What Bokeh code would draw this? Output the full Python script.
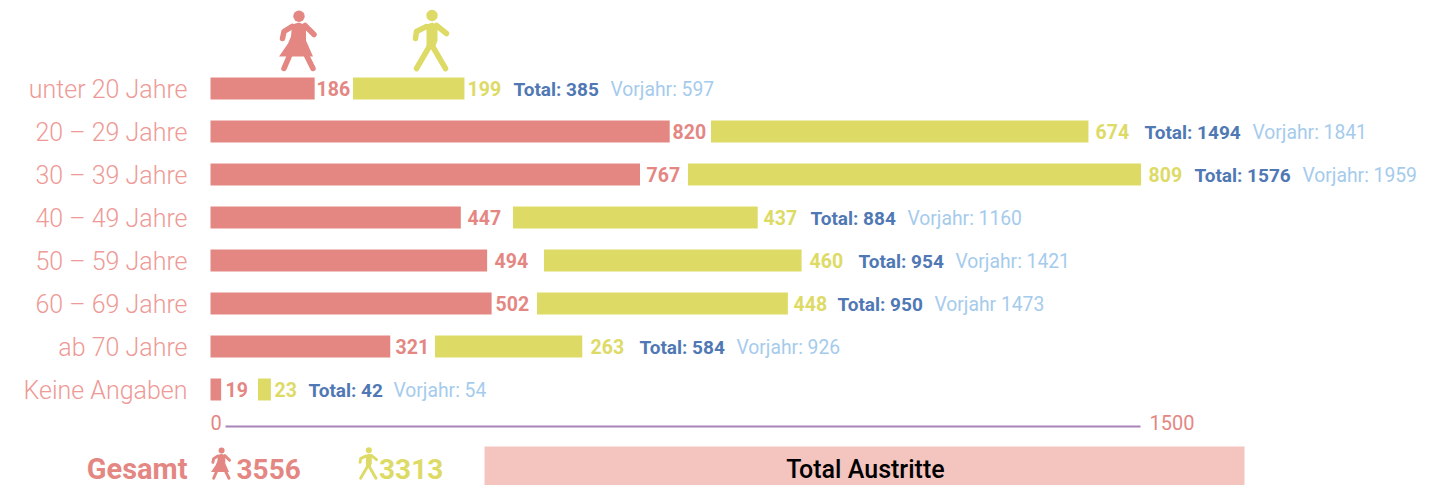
from bokeh.plotting import figure
from bokeh.models import Range1d
from bokeh.core.properties import value
from bokeh.embed import file_html
from bokeh.resources import INLINE

categories = ["unter 20 Jahre", "20 – 29 Jahre", "30 – 39 Jahre", "40 – 49 Jahre",
              "50 – 59 Jahre", "60 – 69 Jahre", "ab 70 Jahre", "Keine Angaben"]
women = [186, 820, 767, 447, 494, 502, 321, 19]
men = [199, 674, 809, 437, 460, 448, 263, 23]
totals = [385, 1494, 1576, 884, 954, 950, 584, 42]
previous = [597, 1841, 1959, 1160, 1421, 1473, 926, 54]
previous_prefix = ["Vorjahr: "] * 5 + ["Vorjahr "] + ["Vorjahr: "] * 2
sum_women = 3556
sum_men = 3313
axis_ticks = ["0", "1500"]

# layout (page pixels)
men_start = [352.5, 710.5, 687.5, 512.5, 543.5, 536.5, 434.5, 257.5]
lab_w = [316, 672, 646, 467, 494, 495, 395, 225]
lab_m = [467, 1095, 1148, 763, 809, 793, 590, 274]
lab_t = [513, 1144, 1194, 810, 858, 837, 639, 308]
lab_p = [610, 1252, 1302, 907, 955, 934, 736, 393]

RED, YEL, BLUE, SKY = "#e48783", "#dddb66", "#5078b4", "#a5cbec"
PURPLE, PINK, CAT = "#a884b8", "#f4c4bf", "#ee9a96"
W, H = 1432, 485
PX = 0.56
X = lambda px: (px - 210) / PX
Y = lambda py: (py - 88) / 43

p = figure(width=W, height=H, output_backend="svg", toolbar_location=None,
           x_range=Range1d(X(0), X(W)), y_range=Range1d(Y(H), Y(0)),
           min_border=0, outline_line_color=None)
p.axis.visible = False
p.grid.visible = False

rows = list(range(len(categories)))
m_left = [X(s) for s in men_start]
p.hbar(y=rows, left=0, right=women, height=22 / 43, color=RED, line_color=None)
p.hbar(y=rows, left=m_left, right=[l + v for l, v in zip(m_left, men)],
       height=22 / 43, color=YEL, line_color=None)

BOLD = value("Roboto")
LIGHT = value("Roboto Light")


def txt(xs, ys, texts, color, size, font=BOLD, style="bold", align="left"):
    p.text(x=xs, y=ys, text=texts, text_color=color, text_font=font, text_font_style=style,
           text_font_size=f"{size}px", text_align=align, text_baseline="middle")


txt([X(187)] * 8, [r + 0.5 / 43 for r in rows], categories, CAT, 25, LIGHT, "normal", "right")
txt([X(a) for a in lab_w], rows, [str(v) for v in women], RED, 19.5)
txt([X(a) for a in lab_m], rows, [str(v) for v in men], YEL, 19.5)
txt([X(a) for a in lab_t], [r + 0.5 / 43 for r in rows], [f"Total: {v}" for v in totals], BLUE, 19)
txt([X(a) for a in lab_p], [r + 0.5 / 43 for r in rows],
    [a + str(v) for a, v in zip(previous_prefix, previous)], SKY, 19.3, value("Roboto"), "normal")

# axis
p.segment(x0=[X(225)], y0=[Y(426)], x1=[X(1140)], y1=[Y(426)], line_color=PURPLE, line_width=2)
txt([X(210), X(1149)], [Y(422)] * 2, axis_ticks, RED, 20, value("Roboto"), "normal")

# footer
p.quad(left=[X(484)], right=[X(1244)], top=[Y(446)], bottom=[Y(485)], color=PINK, line_color=None)
txt([X(187)], [Y(468)], ["Gesamt"], RED, 29, align="right")
txt([X(236)], [Y(468)], [str(sum_women)], RED, 28)
txt([X(378.5)], [Y(468)], [str(sum_men)], YEL, 28)
txt([X(865)], [Y(469)], ["Total Austritte"], "#000000", 25, value("Roboto Medium"), "normal", "center")

WOMAN = dict(head=(20, 5.7, 5.7),
             lines=[[(13, 16), (5, 21), (3.5, 28)], [(26, 15), (35, 24)], [(11, 44), (5, 58)], [(27, 44), (34, 58)]],
             poly=[(13, 14), (20, 12), (27, 15), (27, 30), (34, 46), (0, 46), (9, 33), (12, 26)])
MAN = dict(head=(19.5, 5, 5.7),
           lines=[[(14, 16), (4, 21), (3, 28)], [(24, 15), (34, 23)], [(18, 34), (4, 58)], [(19, 34), (33, 58)]],
           poly=[(14, 14), (20, 12), (25, 15), (25, 30), (22, 38), (14, 38)])


def person(shape, x0, y0, k, color):
    hx, hy, hr = shape["head"]
    hx = x0 + hx * k
    hy = y0 + hy * k
    p.scatter(x=[X(hx)], y=[Y(hy)], size=2 * hr * k, color=color, line_color=None)
    p.patch(x=[X(x0 + a * k) for a, b in shape["poly"]], y=[Y(y0 + b * k) for a, b in shape["poly"]],
            color=color, line_color=None)
    for ln in shape["lines"]:
        p.line(x=[X(x0 + a * k) for a, b in ln], y=[Y(y0 + b * k) for a, b in ln],
               line_color=color, line_width=5.5 * k, line_cap="round", line_join="round")


person(WOMAN, 278.5, 10, 1, RED)
person(MAN, 412, 10, 1, YEL)
person(WOMAN, 210.5, 447, 0.53, RED)
person(MAN, 358, 447, 0.53, YEL)

open("out.html", "w").write(file_html(p, INLINE))
